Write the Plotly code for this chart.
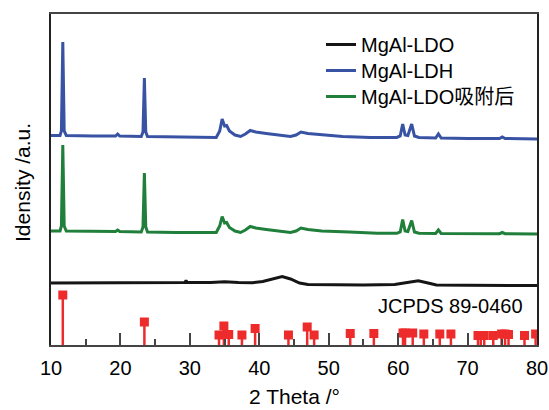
import plotly.graph_objects as go

# ---- data (2θ in degrees, intensity in a.u., curves already offset) ----
ldo_x = [10, 20, 28, 29.3, 29.45, 29.6, 33, 35, 37, 39, 40.5, 41.8, 43.3, 44.5, 45.8, 47, 50, 55,
         59.5, 61, 62.9, 64.3, 65.5, 70, 80]
ldo_y = [62, 62, 62.5, 62.5, 64.5, 62.5, 62.5, 63.3, 62.5, 62.3, 63.5, 66, 68.5, 66, 62, 60.5, 60.3, 60,
         60.5, 62, 64.3, 62, 60, 59.7, 59.5]

ldh_x = [10, 11.3, 11.5, 11.7, 11.9, 12.2, 16, 19.3, 19.6, 19.9, 23.0, 23.25, 23.45, 23.65, 23.9, 28,
         33.8, 34.3, 34.65, 35.0, 35.3, 35.7, 36.5, 37.3, 38.0, 38.7, 39.5, 41, 43, 44.5, 45.3, 46.0,
         47, 49, 52, 56, 59.8, 60.3, 60.65, 61.0, 61.4, 61.95, 62.35, 63, 65.4, 65.8, 66.2, 70, 74.6,
         75, 75.4, 80]
ldh_y = [209.5, 209.5, 214, 303, 214, 209.5, 209, 209, 211, 209, 208.5, 213, 267, 213, 208.5, 208,
         207.5, 214, 226, 219, 219.5, 214, 210, 208.5, 211, 214.5, 213, 211.5, 210, 208.5, 210, 213,
         211.5, 210, 208.5, 207.5, 207.5, 209, 221, 210, 209.5, 221, 209, 207.5, 207, 211, 207, 206.5, 206.5,
         208, 206.5, 206]

ads_x = [10, 11.3, 11.5, 11.7, 11.9, 12.2, 19.3, 19.6, 19.9, 23.0, 23.25, 23.45, 23.65, 23.9, 28,
         33.8, 34.3, 34.65, 35.0, 35.3, 35.7, 36.5, 37.3, 38.0, 38.7, 39.5, 41, 43, 44.5, 45.3, 46.0,
         47, 49, 53, 57, 59.8, 60.3, 60.65, 61.0, 61.4, 61.95, 62.35, 63, 65.4, 65.8, 66.2, 70, 74.6,
         75, 75.4, 80]
ads_y = [114, 114, 119, 200, 119, 114, 113.5, 115, 113.5, 113, 118, 172, 118, 113, 112.5,
         112.5, 119, 128.5, 122, 122.5, 117.5, 114, 112.5, 115, 118.5, 117, 115.5, 113.5, 112.5, 114, 117,
         115.5, 114, 113, 111.7, 111.7, 113, 125.5, 114, 113.5, 124.5, 113, 111.7, 111.5, 115, 111.5, 111.3, 111.3,
         112.5, 111.3, 111]

# JCPDS 89-0460 reference lines (2θ, relative intensity)
ref_pos = [11.7, 23.45, 34.2, 34.9, 35.6, 37.5, 39.4, 44.2, 46.9, 47.9, 53.1, 56.5, 60.7, 61.0, 62.1,
           63.7, 66.0, 67.6, 71.5, 71.9, 72.4, 73.7, 74.9, 75.4, 75.9, 78.2, 79.8]
ref_int = [100, 46, 20, 38, 21, 20, 33, 20, 36, 20, 23, 23, 24, 24, 24,
           22, 22, 22, 19, 19, 19, 19, 22, 22, 21, 19, 22]

x_ticks = [10, 20, 30, 40, 50, 60, 70, 80]

FONT = "Liberation Sans, Arial, Noto Sans CJK SC, sans-serif"

fig = go.Figure()
fig.add_trace(go.Scatter(x=ldo_x, y=ldo_y, mode="lines", name="MgAl-LDO", legend="legend",
                         line=dict(color="#151515", width=3)))
fig.add_trace(go.Scatter(x=ldh_x, y=ldh_y, mode="lines", name="MgAl-LDH", legend="legend2",
                         line=dict(color="#3953a4", width=3)))
fig.add_trace(go.Scatter(x=ads_x, y=ads_y, mode="lines", name="MgAl-LDO吸附后", legend="legend3",
                         line=dict(color="#1f7f3b", width=3)))

stem_x, stem_y = [], []
for p, h in zip(ref_pos, ref_int):
    stem_x += [p, p, None]
    stem_y += [0, h, None]
fig.add_trace(go.Scatter(x=stem_x, y=stem_y, mode="lines", yaxis="y2", showlegend=False,
                         line=dict(color="#ee2b2b", width=2.5), hoverinfo="skip"))
fig.add_trace(go.Scatter(x=ref_pos, y=ref_int, mode="markers", yaxis="y2", showlegend=False,
                         marker=dict(symbol="square", size=9, color="#ee2b2b"), cliponaxis=True))

leg_common = dict(x=0.5556, xanchor="left", yanchor="top", bgcolor="rgba(0,0,0,0)",
                  font=dict(family=FONT, size=20, color="black"), itemwidth=30)

fig.update_layout(
    width=549, height=410,
    margin=dict(l=51, r=12, t=14, b=65, autoexpand=False),
    paper_bgcolor="white", plot_bgcolor="white",
    font=dict(family=FONT, size=20, color="black"),
    showlegend=True,
    legend=dict(y=0.9668, **leg_common),
    legend2=dict(y=0.8882, **leg_common),
    legend3=dict(y=0.8097, **leg_common),
    xaxis=dict(range=[10, 80], tickvals=x_ticks, ticktext=[str(v) for v in x_ticks],
               ticks="inside", ticklen=12, tickwidth=1.5, tickcolor="#444",
               minor=dict(dtick=5, ticks="inside", ticklen=6, tickwidth=1.5, tickcolor="#444"),
               showline=True, linecolor="#444", linewidth=2, mirror=True,
               showgrid=False, zeroline=False, automargin=False, ticklabelstandoff=4,
               tickfont=dict(family=FONT, size=20, color="black")),
    yaxis=dict(range=[0, 331], showticklabels=False, ticks="", showline=True, linecolor="#222",
               linewidth=1.5, mirror=True, showgrid=False, zeroline=False, automargin=False),
    yaxis2=dict(range=[0, 662], overlaying="y", visible=False),
    annotations=[
        dict(text="2 Theta /°", xref="paper", yref="paper", x=0.5, y=-0.157, xanchor="center",
             yanchor="middle", showarrow=False, font=dict(family=FONT, size=21, color="black")),
        dict(text="Idensity /a.u.", xref="paper", yref="paper", x=-0.06, y=0.492, xanchor="center",
             yanchor="middle", textangle=-90, showarrow=False,
             font=dict(family=FONT, size=21, color="black")),
        dict(text="JCPDS 89-0460", xref="paper", yref="paper", x=0.975, y=0.118, xanchor="right",
             yanchor="middle", showarrow=False, font=dict(family=FONT, size=20, color="black")),
    ],
)

fig.write_html("out.html")
